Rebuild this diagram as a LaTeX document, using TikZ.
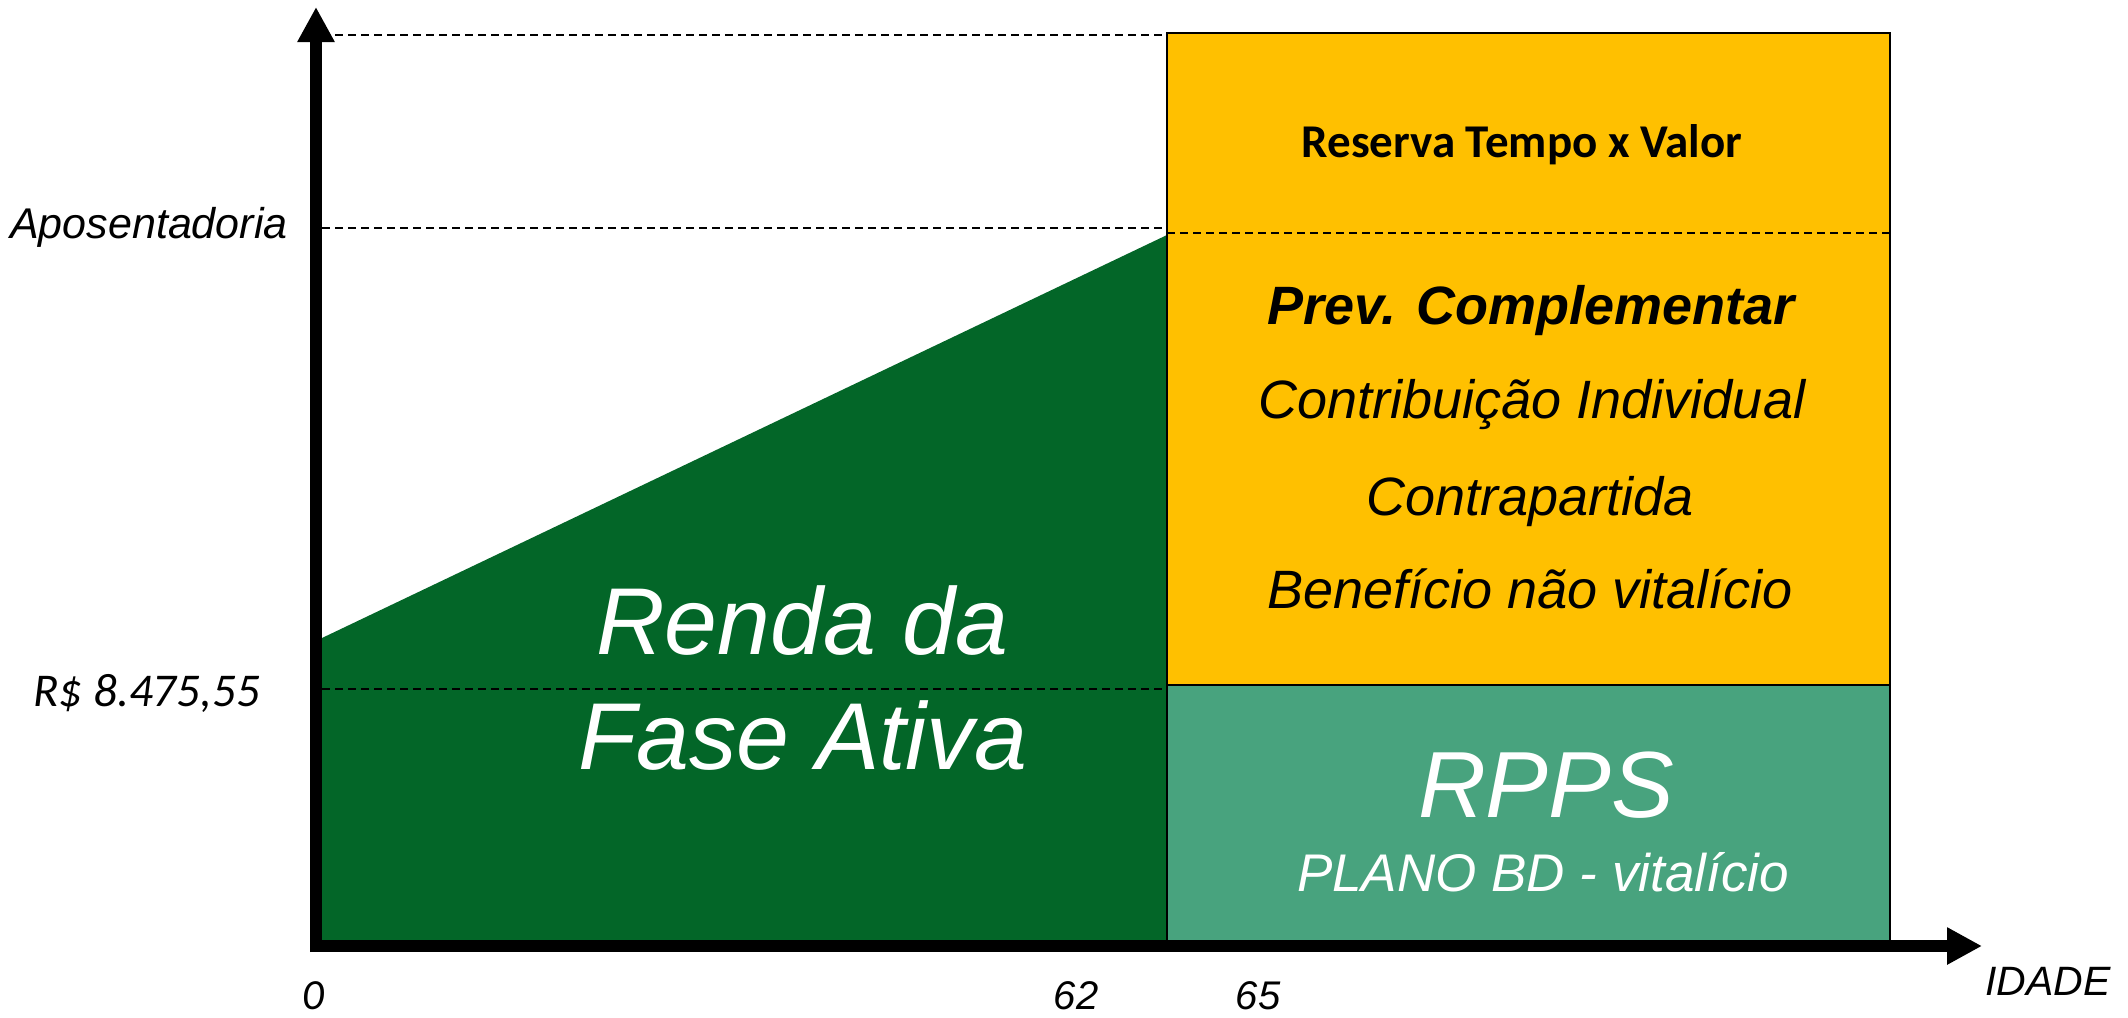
\documentclass[tikz,border=0pt]{standalone}
\usepackage{fontspec}
\setmainfont{Liberation Sans}
\newfontfamily\calibri{Carlito}
\usetikzlibrary{arrows.meta}
\definecolor{dgreen}{RGB}{3,102,40}
\definecolor{mgreen}{RGB}{72,163,126}
\definecolor{gold}{RGB}{255,192,0}
\begin{document}
\begin{tikzpicture}[x=0.5pt,y=-0.5pt,
  dashline/.style={dash pattern=on 4pt off 2.5pt, line width=1pt},
  axisline/.style={line width=6pt,-{Triangle[width=17.5pt,length=17.5pt]}},
  lbl/.style={inner sep=0pt, anchor=base},
  arialit/.style={lbl, font=\fontsize{#1}{#1}\selectfont\itshape},
  arialbi/.style={lbl, font=\fontsize{#1}{#1}\selectfont\bfseries\itshape},
  whitetxt/.style={text=white},
]
\useasboundingbox (0,0) rectangle (2128,1017);
\fill[white] (0,0) rectangle (2128,1017);

% coordinates
\coordinate (o) at (316,946);
\coordinate (ytip) at (316,7);
\coordinate (xtip) at (1982,946);
\coordinate (g0) at (322,638);
\coordinate (g1) at (1167,235);
\coordinate (g2) at (1167,946);
\coordinate (g3) at (322,946);
\coordinate (boxtl) at (1167,33);
\coordinate (boxbr) at (1890,685);
\coordinate (rppstl) at (1167,685);
\coordinate (rppsbr) at (1890,941);
\coordinate (d1a) at (322,35);
\coordinate (d1b) at (1167,35);
\coordinate (d2a) at (322,228);
\coordinate (d2b) at (1167,228);
\coordinate (d3a) at (1167,233);
\coordinate (d3b) at (1890,233);
\coordinate (d4a) at (322,689);
\coordinate (d4b) at (1167,689);

% areas
\fill[dgreen] (g0) -- (g1) -- (g2) -- (g3) -- cycle;
\filldraw[fill=gold, draw=black, line width=0.8pt] (boxtl) rectangle (boxbr);
\filldraw[fill=mgreen, draw=black, line width=0.6pt] (rppstl) rectangle (rppsbr);

% dashed guides
\draw[dashline] (d1a) -- (d1b);
\draw[dashline] (d2a) -- (d2b);
\draw[dashline, line width=1.4pt] (d3a) -- (d3b);
\draw[dashline] (d4a) -- (d4b);

% axes
\draw[axisline] ([yshift=-3pt]o) -- (ytip);
\draw[axisline] ([xshift=-3pt]o) -- (xtip);

% labels
\node[arialit=21.5, anchor=base east] (ap) at (288,238) {Aposentadoria};
\node[lbl, anchor=base west, font=\calibri\fontsize{23.5}{23.5}\selectfont\itshape] (rs) at (33,706) {R\$ 8.475,55};
\node[lbl, font=\calibri\fontsize{21.5}{21.5}\selectfont\itshape] (zero) at (313,1009) {0};
\node[arialit=20] (n62) at (1076,1009) {62};
\node[arialit=20] (n65) at (1258,1009) {65};
\node[arialit=20.5] (idade) at (2048,995) {IDADE};

\node[lbl, font=\calibri\fontsize{23.5}{23.5}\selectfont\bfseries] (reserva) at (1522,157) {Reserva Tempo x Valor};
\node[arialbi=27] (prev) at (1531,324) {Prev. Complementar};
\node[arialit=27] (contrib) at (1532,418) {Contribuição Individual};
\node[arialit=27] (contra) at (1530,515) {Contrapartida};
\node[arialit=27] (benef) at (1530,608) {Benefício não vitalício};

\node[arialit=47, whitetxt] (rpps) at (1546,817) {RPPS};
\node[arialit=26.5, whitetxt] (plano) at (1543,891) {PLANO BD - vitalício};

\node[arialit=47.5, whitetxt] (renda1) at (802,654) {Renda da};
\node[arialit=47.5, whitetxt] (renda2) at (803,769) {Fase Ativa};
\end{tikzpicture}
\end{document}
